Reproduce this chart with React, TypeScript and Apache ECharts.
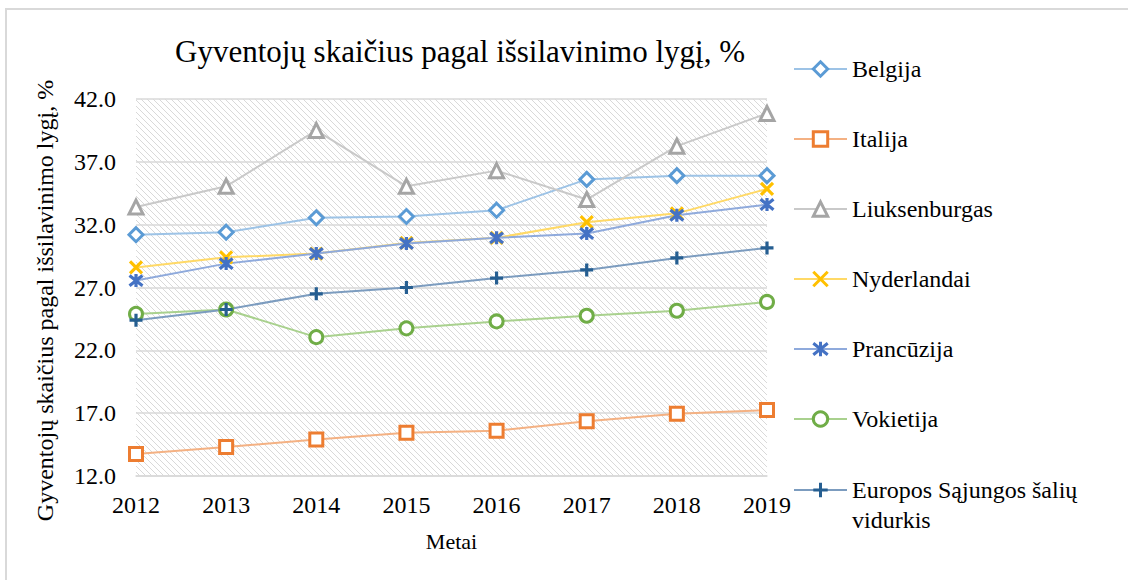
import React, { useEffect, useRef } from "react";
import * as echarts from "echarts";

const years = ["2012", "2013", "2014", "2015", "2016", "2017", "2018", "2019"];
const belgija = [31.2, 31.4, 32.55, 32.65, 33.15, 35.6, 35.9, 35.9];
const italija = [13.75, 14.3, 14.9, 15.45, 15.6, 16.35, 16.95, 17.25];
const liuksenburgas = [33.4, 35.05, 39.5, 35.05, 36.3, 34.0, 38.25, 40.85];
const nyderlandai = [28.6, 29.4, 29.7, 30.55, 30.95, 32.2, 32.9, 34.85];
const prancuzija = [27.55, 28.9, 29.7, 30.5, 30.95, 31.3, 32.75, 33.6];
const vokietija = [24.9, 25.25, 23.05, 23.75, 24.3, 24.75, 25.15, 25.85];
const esVidurkis = [24.4, 25.25, 26.5, 27.0, 27.75, 28.4, 29.35, 30.15];

const titleText = "Gyventojų skaičius pagal išsilavinimo lygį, %";
const yName = "Gyventojų skaičius pagal išsilavinimo lygį, %";
const xName = "Metai";
const euName = "Europos Sąjungos šalių vidurkis";

const FONT = "Liberation Serif";

function makeHatch(): string {
  const c = document.createElement("canvas");
  c.width = 6;
  c.height = 6;
  const ctx = c.getContext("2d")!;
  ctx.fillStyle = "#ffffff";
  ctx.fillRect(0, 0, 6, 6);
  ctx.strokeStyle = "#d9d9d9";
  ctx.lineWidth = 1;
  ctx.beginPath();
  ctx.moveTo(-1, -1);
  ctx.lineTo(7, 7);
  ctx.moveTo(-7, -1);
  ctx.lineTo(1, 7);
  ctx.moveTo(5, -1);
  ctx.lineTo(13, 7);
  ctx.stroke();
  return c.toDataURL();
}

export default function App() {
  const ref = useRef<HTMLDivElement>(null);
  useEffect(() => {
    if (!ref.current) return;
    const chart = echarts.init(ref.current, null, { renderer: "svg" });
    const hatch = makeHatch();

    const mk = (
      name: string,
      data: number[],
      symbol: string,
      markerColor: string,
      lineColor: string,
      hollow: boolean,
      size: number
    ) => ({
      name,
      type: "line",
      data,
      symbol,
      symbolSize: size,
      showSymbol: true,
      lineStyle: { color: lineColor, width: 2 },
      itemStyle: hollow
        ? { color: "#ffffff", borderColor: markerColor, borderWidth: 3 }
        : { color: markerColor, borderColor: markerColor, borderWidth: 3.2 },
      emphasis: { disabled: true },
    });

    const legendText = { fontFamily: FONT, fontSize: 24, color: "#000" };

    chart.setOption({
      animation: false,
      backgroundColor: "#ffffff",
      textStyle: { fontFamily: FONT, color: "#000" },
      title: {
        text: titleText,
        left: 455,
        top: 31,
        textAlign: "center",
        textStyle: { fontFamily: FONT, fontSize: 31, fontWeight: "normal", color: "#000" },
      },
      grid: {
        left: 136,
        right: 361,
        top: 99,
        bottom: 104,
        show: true,
        borderWidth: 0,
        backgroundColor: { image: hatch, repeat: "repeat" },
      },
      legend: [
        {
          orient: "vertical",
          left: 793,
          top: 57,
          padding: 0,
          itemWidth: 53,
          itemHeight: 18,
          itemGap: 46,
          selectedMode: false,
          itemStyle: { borderWidth: 3 },
          textStyle: { ...legendText, lineHeight: 24 },
          data: ["Belgija", "Italija", "Liuksenburgas", "Nyderlandai", "Prancūzija", "Vokietija"],
        },
        {
          orient: "vertical",
          left: 793,
          top: 445,
          padding: 0,
          itemWidth: 53,
          itemHeight: 18,
          selectedMode: false,
          itemStyle: { borderWidth: 3 },
          formatter: () => "\nEuropos Sąjungos šalių\nvidurkis",
          textStyle: { ...legendText, lineHeight: 30 },
          data: [euName],
        },
      ],
      xAxis: {
        type: "category",
        data: years,
        boundaryGap: false,
        name: xName,
        nameLocation: "middle",
        nameGap: 54,
        nameTextStyle: { fontFamily: FONT, fontSize: 22, color: "#000" },
        axisLine: { show: true, lineStyle: { color: "#d9d9d9", width: 1.5 } },
        axisTick: { show: false },
        axisLabel: { fontFamily: FONT, fontSize: 24, color: "#000", margin: 17 },
        splitLine: { show: false },
      },
      yAxis: {
        type: "value",
        min: 12,
        max: 42,
        interval: 5,
        name: yName,
        nameLocation: "middle",
        nameGap: 79,
        nameTextStyle: { fontFamily: FONT, fontSize: 24, color: "#000", padding: [0, 26, 0, 0] },
        axisLine: { show: false },
        axisTick: { show: false },
        axisLabel: {
          fontFamily: FONT,
          fontSize: 24,
          color: "#000",
          margin: 20,
          formatter: (v: number) => v.toFixed(1),
        },
        splitLine: { show: true, lineStyle: { color: "#d9d9d9", width: 1.5 } },
      },
      graphic: [
        {
          type: "rect",
          shape: { x: 6, y: 9, width: 1140, height: 600 },
          style: { fill: "none", stroke: "#d9d9d9", lineWidth: 2 },
          silent: true,
          z: -10,
        },
      ],
      series: [
        mk("Belgija", belgija, "diamond", "#5B9BD5", "#9DC3E6", true, 14),
        mk("Italija", italija, "rect", "#ED7D31", "#F4B183", true, 13),
        mk("Liuksenburgas", liuksenburgas, "triangle", "#A5A5A5", "#C9C9C9", true, 14),
        mk("Nyderlandai", nyderlandai, "path://M0,0L10,10M10,0L0,10", "#FFC000", "#FFD966", false, 12),
        mk("Prancūzija", prancuzija, "path://M1,1L9,9M9,1L1,9M5,0L5,10", "#4472C4", "#8FAADC", false, 13),
        mk("Vokietija", vokietija, "circle", "#70AD47", "#A9D18E", true, 13),
        mk(euName, esVidurkis, "path://M5,0L5,10M0,5L10,5", "#255E91", "#7C9CBF", false, 13),
      ],
    });
    return () => chart.dispose();
  }, []);
  return (
    <div
      ref={ref}
      style={{ position: "fixed", left: 0, top: 0, width: 1128, height: 580 }}
    />
  );
}
